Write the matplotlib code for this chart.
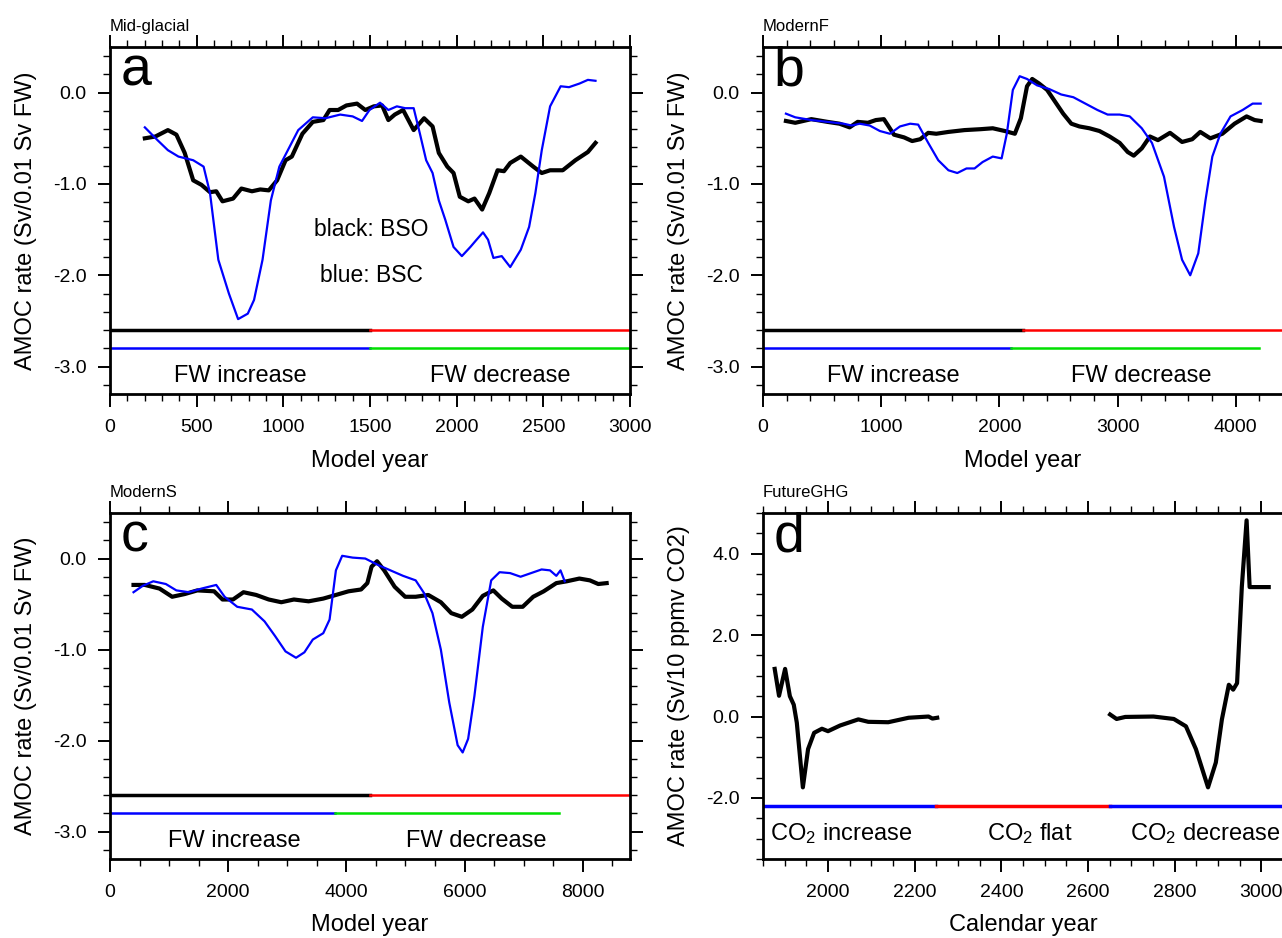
import numpy as np
import matplotlib
matplotlib.use("Agg")
import matplotlib.pyplot as plt
from matplotlib.ticker import MultipleLocator, FuncFormatter

plt.rcParams['font.family'] = ['Liberation Sans', 'DejaVu Sans']
plt.rcParams['mathtext.fontset'] = 'custom'
plt.rcParams['mathtext.rm'] = 'Liberation Sans'
plt.rcParams['mathtext.it'] = 'Liberation Sans'

# ---- panel a: Mid-glacial
a_blk_x = [201, 262, 334, 383, 431, 480, 528, 577, 613, 649, 710, 758, 819, 867, 916, 964, 1013, 1049,
           1110, 1170, 1231, 1267, 1316, 1364, 1425, 1473, 1522, 1570, 1606, 1643, 1691, 1752, 1812,
           1861, 1897, 1946, 1982, 2018, 2067, 2103, 2147, 2188, 2236, 2273, 2309, 2370, 2442, 2491,
           2539, 2612, 2685, 2757, 2801]
a_blk_y = [-0.50, -0.48, -0.41, -0.46, -0.66, -0.96, -1.01, -1.09, -1.08, -1.19, -1.16, -1.05, -1.08,
           -1.06, -1.07, -0.96, -0.74, -0.70, -0.45, -0.32, -0.30, -0.19, -0.19, -0.14, -0.12, -0.19,
           -0.15, -0.14, -0.30, -0.24, -0.19, -0.41, -0.28, -0.37, -0.66, -0.81, -0.88, -1.14, -1.19,
           -1.16, -1.28, -1.10, -0.85, -0.86, -0.77, -0.70, -0.81, -0.88, -0.85, -0.85, -0.74, -0.65, -0.55]
a_blu_x = [201, 274, 334, 395, 480, 540, 577, 625, 686, 739, 795, 831, 880, 928, 977, 1037, 1086, 1170,
           1243, 1328, 1400, 1454, 1497, 1558, 1606, 1655, 1703, 1752, 1788, 1824, 1861, 1897, 1934,
           1982, 2030, 2079, 2115, 2152, 2181, 2212, 2260, 2309, 2370, 2418, 2454, 2491, 2539, 2600,
           2648, 2709, 2757, 2801]
a_blu_y = [-0.38, -0.52, -0.63, -0.70, -0.74, -0.81, -1.10, -1.83, -2.20, -2.48, -2.42, -2.27, -1.83,
           -1.18, -0.81, -0.59, -0.41, -0.27, -0.28, -0.24, -0.26, -0.31, -0.19, -0.11, -0.19, -0.15,
           -0.17, -0.17, -0.45, -0.74, -0.88, -1.18, -1.39, -1.69, -1.79, -1.69, -1.61, -1.53, -1.61,
           -1.81, -1.79, -1.91, -1.72, -1.47, -1.10, -0.63, -0.15, 0.07, 0.06, 0.10, 0.14, 0.13]

# ---- panel b: ModernF
b_blk_x = [194, 273, 409, 546, 648, 733, 801, 887, 955, 1023, 1108, 1194, 1262, 1330, 1398, 1466, 1569,
           1705, 1841, 1944, 2046, 2131, 2182, 2234, 2278, 2336, 2404, 2472, 2540, 2609, 2677, 2762,
           2847, 2933, 3018, 3086, 3137, 3205, 3274, 3342, 3444, 3546, 3632, 3700, 3785, 3887, 3990,
           4092, 4160, 4211]
b_blk_y = [-0.31, -0.33, -0.29, -0.32, -0.34, -0.38, -0.32, -0.33, -0.30, -0.29, -0.46, -0.49, -0.53,
           -0.51, -0.44, -0.45, -0.43, -0.41, -0.40, -0.39, -0.42, -0.45, -0.28, 0.07, 0.15, 0.10, 0.03,
           -0.10, -0.23, -0.34, -0.37, -0.39, -0.42, -0.48, -0.55, -0.65, -0.69, -0.61, -0.48, -0.52,
           -0.44, -0.54, -0.51, -0.43, -0.50, -0.45, -0.34, -0.26, -0.30, -0.31]
b_blu_x = [194, 273, 409, 546, 682, 750, 818, 903, 989, 1074, 1159, 1245, 1313, 1398, 1483, 1569, 1644,
           1722, 1790, 1858, 1944, 2019, 2063, 2114, 2172, 2234, 2319, 2421, 2523, 2626, 2728, 2830,
           2916, 3018, 3103, 3205, 3291, 3393, 3478, 3546, 3615, 3683, 3744, 3802, 3870, 3956, 4058,
           4143, 4211]
b_blu_y = [-0.23, -0.27, -0.30, -0.32, -0.34, -0.36, -0.34, -0.36, -0.42, -0.45, -0.37, -0.34, -0.35,
           -0.55, -0.74, -0.85, -0.88, -0.83, -0.83, -0.76, -0.70, -0.72, -0.45, 0.03, 0.18, 0.15, 0.08,
           0.04, -0.02, -0.05, -0.12, -0.19, -0.24, -0.24, -0.26, -0.39, -0.55, -0.92, -1.47, -1.83,
           -2.00, -1.76, -1.18, -0.70, -0.45, -0.26, -0.19, -0.12, -0.12]

# ---- panel c: ModernS
c_blk_x = [398, 590, 838, 1052, 1265, 1478, 1762, 1904, 2082, 2259, 2473, 2686, 2899, 3112, 3361, 3609,
           3823, 4036, 4249, 4355, 4426, 4519, 4640, 4817, 4995, 5173, 5386, 5599, 5776, 5954, 6132,
           6309, 6487, 6629, 6807, 6984, 7162, 7340, 7553, 7730, 7943, 8121, 8263, 8405]
c_blk_y = [-0.29, -0.29, -0.33, -0.42, -0.39, -0.35, -0.36, -0.45, -0.45, -0.37, -0.40, -0.45, -0.48,
           -0.45, -0.47, -0.44, -0.40, -0.36, -0.34, -0.27, -0.09, -0.03, -0.13, -0.31, -0.42, -0.42,
           -0.40, -0.48, -0.60, -0.64, -0.56, -0.41, -0.35, -0.44, -0.53, -0.53, -0.42, -0.36, -0.27,
           -0.25, -0.22, -0.24, -0.28, -0.27]
c_blu_x = [398, 554, 732, 945, 1123, 1336, 1549, 1798, 1940, 2153, 2401, 2615, 2792, 2970, 3148, 3290,
           3432, 3609, 3716, 3823, 3929, 4107, 4320, 4533, 4746, 4959, 5173, 5315, 5457, 5599, 5741,
           5883, 5968, 6061, 6167, 6309, 6451, 6593, 6771, 6948, 7126, 7304, 7446, 7553, 7624, 7695]
c_blu_y = [-0.37, -0.30, -0.25, -0.28, -0.35, -0.37, -0.33, -0.29, -0.42, -0.53, -0.56, -0.69, -0.85,
           -1.02, -1.09, -1.03, -0.89, -0.82, -0.67, -0.13, 0.03, 0.01, 0.00, -0.07, -0.13, -0.19,
           -0.24, -0.38, -0.60, -1.00, -1.58, -2.05, -2.13, -1.98, -1.51, -0.75, -0.24, -0.15, -0.16,
           -0.20, -0.16, -0.12, -0.13, -0.19, -0.13, -0.25]

# ---- panel d: FutureGHG (two segments)
d1_x = [1877, 1887, 1901, 1912, 1921, 1928, 1942, 1954, 1968, 1986, 2000, 2028, 2070, 2093, 2139,
        2186, 2232, 2241, 2252]
d1_y = [1.17, 0.51, 1.17, 0.50, 0.29, -0.15, -1.74, -0.80, -0.40, -0.30, -0.36, -0.22, -0.07, -0.13,
        -0.14, -0.03, 0.00, -0.05, -0.03]
d2_x = [2651, 2666, 2686, 2751, 2798, 2826, 2849, 2877, 2895, 2909, 2925, 2935, 2944, 2955, 2966,
        2973, 3017]
d2_y = [0.05, -0.06, -0.01, 0.00, -0.06, -0.24, -0.80, -1.74, -1.13, -0.07, 0.78, 0.66, 0.82, 3.19,
        4.82, 3.18, 3.18]

W, H = 1282, 938
fig = plt.figure(figsize=(W / 100, H / 100), dpi=100)


def make_ax(left, top, bottom, width=520):
    return fig.add_axes([left / W, 1 - bottom / H, width / W, (bottom - top) / H])


def style(ax, xmaj, xmin, ymaj, ymin, title, letter, xlabel, ylabel):
    ax.xaxis.set_major_locator(MultipleLocator(xmaj))
    ax.xaxis.set_minor_locator(MultipleLocator(xmin))
    ax.yaxis.set_major_locator(MultipleLocator(ymaj))
    ax.yaxis.set_minor_locator(MultipleLocator(ymin))
    ax.yaxis.set_major_formatter(FuncFormatter(lambda v, p: '%.1f' % v if abs(v) > 1e-9 else '0.0'))
    ax.xaxis.set_major_formatter(FuncFormatter(lambda v, p: '%d' % round(v)))
    ax.tick_params(which='both', direction='out', top=True, right=True, labelsize=14)
    ax.tick_params(which='major', length=9, width=1.4)
    ax.tick_params(which='minor', length=4.8, width=1.0)
    ax.tick_params(axis='x', pad=9)
    ax.tick_params(axis='y', pad=8)
    for s in ax.spines.values():
        s.set_linewidth(2)
    ax.set_xlabel(xlabel, fontsize=17)
    ax.set_ylabel(ylabel, fontsize=17)
    ax.xaxis.set_label_coords(0.5, -0.16)
    ax.yaxis.set_label_coords(-0.14, 0.5)
    ax.text(0, 1.047, title, transform=ax.transAxes, fontsize=12, va='baseline', ha='left')
    ax.text(0.02, 0.89, letter, transform=ax.transAxes, fontsize=40, va='baseline', ha='left')


ylab = 'AMOC rate (Sv/0.01 Sv FW)'

# a
ax = make_ax(110, 47, 394)
ax.plot(a_blk_x, a_blk_y, color='black', lw=3)
ax.plot(a_blu_x, a_blu_y, color='blue', lw=1.6)
ax.plot([0, 1500], [-2.6, -2.6], color='black', lw=2.5)
ax.plot([1500, 3000], [-2.6, -2.6], color='red', lw=1.8)
ax.plot([0, 1500], [-2.8, -2.8], color='blue', lw=1.8)
ax.plot([1500, 3000], [-2.8, -2.8], color='#00e000', lw=1.8)
ax.text(750, -3.1, 'FW increase', fontsize=17, ha='center', va='center')
ax.text(2250, -3.1, 'FW decrease', fontsize=17, ha='center', va='center')
ax.text(1510, -1.5, 'black: BSO', fontsize=16.5, ha='center', va='center')
ax.text(1510, -2.0, 'blue: BSC', fontsize=16.5, ha='center', va='center')
ax.set_xlim(0, 3000)
ax.set_ylim(-3.3, 0.5)
style(ax, 500, 100, 1.0, 0.2, 'Mid-glacial', 'a', 'Model year', ylab)

# b
ax = make_ax(763, 47, 394)
ax.plot(b_blk_x, b_blk_y, color='black', lw=3)
ax.plot(b_blu_x, b_blu_y, color='blue', lw=1.6)
ax.plot([0, 2200], [-2.6, -2.6], color='black', lw=2.5)
ax.plot([2200, 4400], [-2.6, -2.6], color='red', lw=1.8)
ax.plot([0, 2100], [-2.8, -2.8], color='blue', lw=1.8)
ax.plot([2100, 4200], [-2.8, -2.8], color='#00e000', lw=1.8)
ax.text(1100, -3.1, 'FW increase', fontsize=17, ha='center', va='center')
ax.text(3200, -3.1, 'FW decrease', fontsize=17, ha='center', va='center')
ax.set_xlim(0, 4400)
ax.set_ylim(-3.3, 0.5)
style(ax, 1000, 200, 1.0, 0.2, 'ModernF', 'b', 'Model year', ylab)

# c
ax = make_ax(110, 513, 859)
ax.plot(c_blk_x, c_blk_y, color='black', lw=3)
ax.plot(c_blu_x, c_blu_y, color='blue', lw=1.6)
ax.plot([0, 4400], [-2.6, -2.6], color='black', lw=2.5)
ax.plot([4400, 8800], [-2.6, -2.6], color='red', lw=1.8)
ax.plot([0, 3800], [-2.8, -2.8], color='blue', lw=1.8)
ax.plot([3800, 7600], [-2.8, -2.8], color='#00e000', lw=1.8)
ax.text(2100, -3.1, 'FW increase', fontsize=17, ha='center', va='center')
ax.text(6200, -3.1, 'FW decrease', fontsize=17, ha='center', va='center')
ax.set_xlim(0, 8800)
ax.set_ylim(-3.3, 0.5)
style(ax, 2000, 500, 1.0, 0.2, 'ModernS', 'c', 'Model year', ylab)

# d
ax = make_ax(763, 513, 859)
ax.plot(d1_x, d1_y, color='black', lw=3)
ax.plot(d2_x, d2_y, color='black', lw=3)
ax.plot([1850, 2250], [-2.2, -2.2], color='blue', lw=2.5)
ax.plot([2250, 2650], [-2.2, -2.2], color='red', lw=2.5)
ax.plot([2650, 3050], [-2.2, -2.2], color='blue', lw=2.5)
ax.text(2030, -2.87, r'CO$_2$ increase', fontsize=17, ha='center', va='center')
ax.text(2465, -2.87, r'CO$_2$ flat', fontsize=17, ha='center', va='center')
ax.text(2870, -2.87, r'CO$_2$ decrease', fontsize=17, ha='center', va='center')
ax.set_xlim(1850, 3050)
ax.set_ylim(-3.5, 5.0)
style(ax, 200, 50, 2.0, 0.5, 'FutureGHG', 'd', 'Calendar year', 'AMOC rate (Sv/10 ppmv CO2)')

fig.savefig('out.png', dpi=100)
